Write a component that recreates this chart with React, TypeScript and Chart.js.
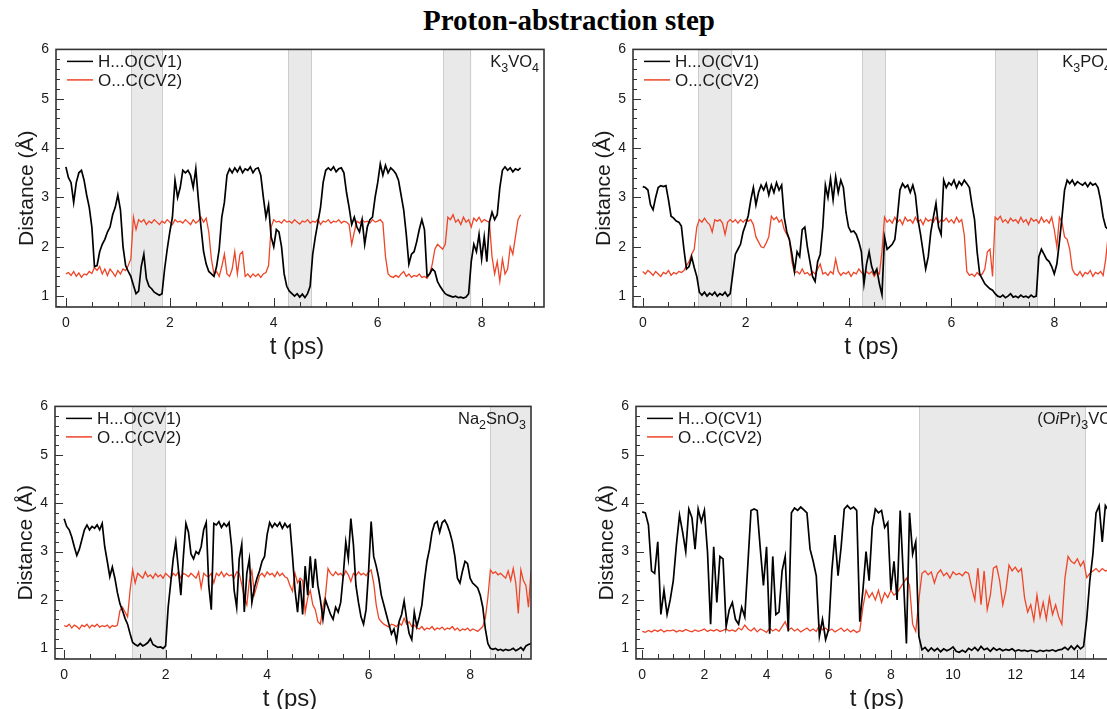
import React, { useEffect, useRef } from 'react';
import { Chart, registerables } from 'chart.js';
Chart.register(...registerables);

// ---------- data ----------
const DT_SHORT = 0.05; // ps between samples (panels a-c)
const DT_LONG = 0.1; // ps between samples (panel d)

const Y_TICKS = [1, 2, 3, 4, 5, 6];
const X_TICKS_SHORT = [0, 2, 4, 6, 8];
const X_TICKS_LONG = [0, 2, 4, 6, 8, 10, 12, 14];

const SERIES_NAMES = ['H...O(CV1)', 'O...C(CV2)'];

// K3VO4
const K3VO4_CV1 = [
  3.62, 3.40, 3.30, 2.90, 3.30, 3.50, 3.55, 3.35, 3.05, 2.80,
  2.40, 1.60, 1.62, 1.90, 2.05, 2.15, 2.30, 2.40, 2.65, 2.80,
  3.05, 2.75, 2.00, 1.62, 1.50, 1.40, 1.22, 1.05, 1.10, 1.60,
  1.85, 1.35, 1.20, 1.15, 1.08, 1.05, 1.02, 1.05, 1.55, 1.95,
  2.30, 2.60, 3.35, 3.00, 3.20, 3.55, 3.50, 3.55, 3.45, 3.20,
  3.58, 2.95, 2.40, 1.90, 1.65, 1.50, 1.45, 1.40, 1.60, 1.95,
  2.60, 2.90, 3.45, 3.58, 3.50, 3.60, 3.52, 3.62, 3.50, 3.58,
  3.55, 3.62, 3.50, 3.58, 3.60, 3.45, 3.00, 2.60, 2.85, 2.20,
  2.00, 2.35, 2.30, 2.00, 1.45, 1.20, 1.10, 1.05, 1.00, 1.05,
  0.98, 1.04, 0.97, 1.05, 1.20, 1.85, 2.20, 2.50, 2.80, 3.30,
  3.55, 3.60, 3.55, 3.62, 3.52, 3.58, 3.60, 3.50, 3.10, 2.80,
  2.45, 2.60, 2.40, 2.30, 2.55, 2.05, 2.40, 2.55, 2.60, 3.00,
  3.30, 3.68, 3.45, 3.65, 3.50, 3.60, 3.55, 3.48, 3.35, 3.05,
  2.75, 2.25, 1.65, 1.85, 1.90, 2.10, 2.35, 2.55, 2.35, 1.40,
  1.45, 1.55, 1.50, 1.30, 1.20, 1.12, 1.05, 1.02, 1.00, 0.98,
  1.00, 0.97, 0.98, 0.96, 0.98, 1.05, 1.70, 2.05, 1.90, 2.25,
  1.75, 2.20, 1.70, 2.50, 2.70, 2.55, 2.65, 3.20, 3.55, 3.62,
  3.55, 3.60, 3.52, 3.58, 3.55, 3.60,
];
const K3VO4_CV2 = [
  1.45, 1.48, 1.42, 1.50, 1.40, 1.47, 1.38, 1.45, 1.43, 1.50,
  1.46, 1.58, 1.52, 1.60, 1.45, 1.55, 1.42, 1.55, 1.48, 1.40,
  1.52, 1.45, 1.55, 1.52, 1.62, 1.75, 2.60, 2.35, 2.55, 2.50,
  2.55, 2.45, 2.52, 2.48, 2.55, 2.50, 2.45, 2.52, 2.48, 2.55,
  2.50, 2.45, 2.55, 2.50, 2.52, 2.48, 2.55, 2.50, 2.45, 2.55,
  2.48, 2.52, 2.60, 2.50, 2.58, 2.30, 1.75, 1.45, 1.50, 1.40,
  1.60, 1.85, 1.45, 1.40, 1.55, 1.90, 1.45, 1.85, 1.90, 1.40,
  1.45, 1.38, 1.45, 1.40, 1.45, 1.38, 1.45, 1.48, 1.62, 2.40,
  2.55, 2.50, 2.52, 2.48, 2.55, 2.50, 2.52, 2.48, 2.55, 2.50,
  2.46, 2.52, 2.50, 2.55, 2.48, 2.52, 2.50, 2.56, 2.45, 2.52,
  2.50, 2.55, 2.48, 2.52, 2.50, 2.55, 2.48, 2.52, 2.50, 2.45,
  2.05, 2.30, 2.52, 2.48, 2.55, 2.50, 2.52, 2.48, 2.55, 2.50,
  2.52, 2.55, 2.48, 1.80, 1.45, 1.40, 1.38, 1.42, 1.38, 1.45,
  1.50, 1.40, 1.45, 1.38, 1.42, 1.40, 1.45, 1.38, 1.40, 1.36,
  1.45, 1.65, 1.95, 2.05, 2.00, 1.95, 2.05, 2.60, 2.55, 2.65,
  2.50, 2.55, 2.45, 2.60, 2.50, 2.55, 2.40, 2.58, 2.52, 2.60,
  2.50, 2.55, 2.52, 2.50, 1.80, 1.45, 1.70, 1.30, 1.75, 1.45,
  1.55, 2.00, 1.85, 2.20, 2.55, 2.65,
];
const K3VO4_SHADES = [[1.26, 1.87], [4.28, 4.73], [7.26, 7.8]];

// K3PO4
const K3PO4_CV1 = [
  3.22, 3.20, 3.15, 2.85, 2.75, 3.00, 3.20, 3.24, 3.22, 3.24,
  2.95, 2.62, 2.58, 2.52, 2.50, 2.42, 1.95, 1.55, 1.60, 1.80,
  1.58, 1.40, 1.08, 1.02, 1.08, 1.00, 1.06, 1.02, 1.08, 1.00,
  1.05, 1.02, 1.08, 1.00, 1.05, 1.45, 1.85, 1.95, 2.05, 2.30,
  2.45, 2.63, 2.95, 3.20, 2.85, 3.10, 3.25, 3.15, 3.28, 3.05,
  3.25, 3.10, 3.30, 3.15, 3.25, 2.60, 2.30, 2.15, 1.85, 1.50,
  1.90, 1.80, 2.35, 2.40, 2.00, 1.70, 1.40, 1.30, 1.70, 1.85,
  2.40, 3.25, 3.00, 3.38, 2.95, 3.42, 3.10, 3.35, 3.20, 2.70,
  2.40, 2.30, 2.32, 2.25, 2.10, 1.90, 1.25, 1.65, 1.90, 1.60,
  1.45, 1.55, 1.25, 1.03, 2.20, 1.95, 2.00, 2.05, 2.15, 2.60,
  3.15, 3.28, 3.20, 3.25, 3.10, 3.25, 3.05, 2.55, 2.25, 1.90,
  1.55, 1.80, 2.30, 2.60, 2.88, 2.40, 2.25, 3.35, 3.20, 3.30,
  3.25, 3.35, 3.20, 3.32, 3.25, 3.35, 3.28, 3.20, 2.85, 2.55,
  1.90, 1.45, 1.35, 1.25, 1.20, 1.15, 1.12, 1.05, 1.00, 0.98,
  1.02, 0.97, 1.00, 1.05, 0.98, 1.00, 0.97, 1.02, 0.98, 1.00,
  0.97, 1.02, 0.98, 1.00, 1.80, 1.95, 1.85, 1.75, 1.70, 1.60,
  1.45, 1.65, 2.10, 2.60, 3.15, 3.35, 3.28, 3.35, 3.25, 3.32,
  3.28, 3.25, 3.30, 3.22, 3.30, 3.25, 3.28, 3.20, 2.95, 2.60,
  2.40, 2.35, 2.45, 2.40, 2.35,
];
const K3PO4_CV2 = [
  1.50, 1.45, 1.52, 1.48, 1.42, 1.50, 1.45, 1.40, 1.48, 1.45,
  1.52, 1.42, 1.48, 1.45, 1.50, 1.48, 1.52, 1.62, 1.70, 1.85,
  1.95, 2.40, 2.55, 2.50, 2.58, 2.50, 2.45, 2.30, 2.55, 2.52,
  2.55, 2.48, 2.25, 2.50, 2.55, 2.50, 2.55, 2.48, 2.55, 2.50,
  2.55, 2.52, 2.55, 2.45, 2.20, 2.10, 2.00, 1.98, 2.08, 2.20,
  2.62, 2.55, 2.60, 2.50, 2.55, 2.35, 2.25, 2.15, 1.70, 1.47,
  1.50, 1.45, 1.55, 1.45, 1.48, 1.42, 1.50, 1.45, 1.55, 1.65,
  1.45, 1.48, 1.42, 1.50, 1.45, 1.75, 1.50, 1.42, 1.48, 1.45,
  1.50, 1.40, 1.48, 1.45, 1.55, 1.48, 1.42, 1.50, 1.45, 1.50,
  1.40, 1.48, 1.45, 1.90, 2.60, 2.50, 2.55, 2.48, 2.60, 2.50,
  2.55, 2.45, 2.60, 2.52, 2.55, 2.48, 2.60, 2.50, 2.55, 2.45,
  2.58, 2.52, 2.55, 2.50, 2.60, 2.48, 2.55, 2.52, 2.58, 2.50,
  2.55, 2.48, 2.60, 2.50, 2.55, 2.25, 1.50, 1.42, 1.45, 1.40,
  1.48, 1.42, 1.45, 1.55, 1.90, 1.95, 1.40, 2.60, 2.55, 2.62,
  2.50, 2.55, 2.48, 2.58, 2.52, 2.55, 2.48, 2.60, 2.50, 2.55,
  2.45, 2.58, 2.52, 2.55, 2.48, 2.60, 2.50, 2.55, 2.48, 2.60,
  2.35, 2.00, 2.60, 2.50, 2.20, 2.15, 1.95, 1.55, 1.45, 1.42,
  1.50, 1.40, 1.48, 1.45, 1.52, 1.40, 1.48, 1.45, 1.50, 1.42,
  1.75, 2.25, 2.20, 2.30, 2.25,
];
const K3PO4_SHADES = [[1.08, 1.74], [4.27, 4.72], [6.85, 7.68]];

// Na2SnO3
const NA2SNO3_CV1 = [
  3.68, 3.52, 3.45, 3.30, 3.10, 2.92, 3.05, 3.25, 3.45, 3.55,
  3.45, 3.52, 3.48, 3.55, 3.45, 3.58, 3.10, 2.80, 2.48, 2.68,
  2.45, 2.15, 1.92, 1.78, 1.62, 1.50, 1.30, 1.12, 1.08, 1.05,
  1.10, 1.05, 1.08, 1.12, 1.20, 1.08, 1.05, 1.02, 1.03, 1.00,
  1.05, 1.85, 2.35, 2.85, 3.20, 2.65, 2.10, 2.90, 3.58, 3.40,
  2.95, 2.85, 3.00, 2.95, 3.10, 3.45, 3.60, 2.30, 1.80, 3.58,
  3.55, 3.62, 3.50, 3.58, 3.52, 3.60, 3.10, 2.20, 1.85, 2.85,
  3.15, 1.75, 2.55, 2.85, 1.95, 2.25, 2.45, 2.60, 2.80, 2.90,
  3.35, 3.60, 3.50, 3.58, 3.52, 3.60, 3.48, 3.58, 3.50, 3.55,
  2.90, 2.20, 1.75, 2.40, 1.70, 2.70, 2.10, 2.90, 2.25, 2.85,
  2.30, 2.00, 1.60, 2.00, 1.85, 1.70, 1.60, 1.85, 1.75, 1.95,
  2.50, 3.20, 2.85, 3.68, 3.15, 2.30, 1.95, 1.65, 1.50, 1.80,
  2.60, 3.62, 2.90, 2.70, 2.45, 2.10, 1.90, 1.70, 1.50, 1.30,
  1.40, 1.15, 1.55, 1.70, 1.98, 1.60, 1.30, 1.18, 1.75, 1.45,
  1.65, 1.90, 2.40, 2.80, 3.05, 3.40, 3.58, 3.62, 3.40, 3.60,
  3.65, 3.55, 3.40, 3.20, 2.90, 2.45, 2.35, 2.60, 2.80, 2.75,
  2.45, 2.35, 2.30, 2.25, 2.10, 1.85, 1.40, 1.10, 1.00, 0.98,
  1.00, 0.96, 0.98, 0.95, 0.98, 0.96, 0.97, 1.00, 0.95, 0.98,
  1.02, 0.96, 1.05, 1.08, 1.10,
];
const NA2SNO3_CV2 = [
  1.47, 1.45, 1.50, 1.42, 1.48, 1.45, 1.40, 1.48, 1.45, 1.50,
  1.42, 1.48, 1.45, 1.50, 1.44, 1.47, 1.45, 1.48, 1.42, 1.47,
  1.45, 1.48, 1.78, 1.85, 1.75, 1.65, 2.20, 2.62, 2.35, 2.55,
  2.50, 2.45, 2.58, 2.48, 2.52, 2.45, 2.55, 2.48, 2.52, 2.45,
  2.55, 2.50, 2.45, 2.55, 2.50, 2.58, 2.45, 2.55, 2.52, 2.48,
  2.55, 2.50, 2.45, 2.58, 2.25, 2.55, 2.50, 2.48, 2.55, 2.35,
  2.55, 2.50, 2.58, 2.48, 2.55, 2.50, 2.52, 2.45, 2.58, 2.55,
  2.32, 2.05, 1.90, 2.40, 2.60, 2.12, 2.30, 2.50, 2.55, 2.48,
  2.58, 2.52, 2.55, 2.48, 2.58, 2.50, 2.55, 2.48, 2.45, 2.30,
  2.18, 2.55, 2.35, 2.45, 2.40, 1.75, 2.05, 2.20, 1.90, 1.80,
  1.55, 1.50, 1.85, 2.10, 2.65, 2.55, 2.50, 2.58, 2.52, 2.55,
  2.48, 2.60, 2.52, 2.38, 2.55, 2.50, 2.58, 2.52, 2.55, 2.50,
  2.58, 2.62, 2.35, 1.90, 1.62, 1.55, 1.50, 1.47, 1.44, 1.50,
  1.48, 1.45, 1.52, 1.48, 1.62, 1.50, 1.55, 1.45, 1.48, 1.42,
  1.40, 1.45, 1.38, 1.42, 1.40, 1.45, 1.38, 1.42, 1.40, 1.44,
  1.38, 1.42, 1.40, 1.45, 1.38, 1.42, 1.36, 1.40, 1.38, 1.42,
  1.36, 1.40, 1.38, 1.35, 1.40, 1.45, 1.62, 2.05, 2.62, 2.55,
  2.58, 2.52, 2.55, 2.50, 2.45, 2.60, 2.40, 2.65, 2.35, 1.72,
  2.62, 2.40, 2.30, 1.85, 2.60,
];
const NA2SNO3_SHADES = [[1.34, 2.01], [8.39, 9.3]];

// (OiPr)3VO4
const OIPR3VO4_CV1 = [
  3.82, 3.80, 3.55, 2.60, 2.55, 3.20, 1.70, 2.20, 1.70, 2.00,
  2.40, 3.14, 3.75, 3.40, 3.00, 3.88, 3.70, 3.05, 3.88, 3.62,
  3.85, 3.00, 1.50, 3.10, 1.95, 2.90, 2.85, 1.45, 1.80, 1.95,
  1.60, 1.50, 1.85, 1.65, 2.75, 3.85, 3.88, 3.85, 3.05, 2.30,
  3.10, 1.30, 2.90, 1.70, 1.75, 2.60, 2.90, 1.35, 3.80, 3.90,
  3.85, 3.92, 3.86, 3.80, 3.05, 2.80, 2.50, 1.25, 1.60, 1.18,
  1.40, 2.60, 3.34, 2.50, 3.10, 3.88, 3.95, 3.88, 3.92, 3.85,
  1.55, 2.20, 3.00, 2.40, 3.50, 3.88, 3.80, 3.85, 3.50, 3.60,
  2.20, 2.80, 2.00, 3.85, 2.50, 1.10, 3.80, 2.95, 3.20, 1.25,
  0.97, 1.02, 0.94, 1.01, 0.95, 1.00, 0.93, 0.99, 0.95, 0.98,
  1.03, 0.94, 0.92, 0.96, 0.92, 1.00, 0.96, 1.02, 0.95, 1.04,
  0.97, 1.00, 0.94, 1.01, 0.96, 0.99, 0.95, 0.98, 0.96, 0.99,
  0.94, 0.97, 0.95, 0.96, 0.94, 0.96, 0.95, 0.93, 0.96, 0.94,
  0.96, 0.95, 0.97, 0.94, 0.97, 0.98, 1.02, 0.97, 1.05, 0.98,
  1.06, 0.99, 1.04, 1.60, 2.40, 2.95, 3.80, 3.95, 3.20, 3.95,
  3.85,
];
const OIPR3VO4_CV2 = [
  1.35, 1.33, 1.37, 1.34, 1.38, 1.35, 1.39, 1.34, 1.37, 1.36,
  1.38, 1.34, 1.37, 1.35, 1.39, 1.36, 1.34, 1.38, 1.35, 1.37,
  1.40, 1.35, 1.38, 1.36, 1.39, 1.35, 1.37, 1.40, 1.36, 1.38,
  1.35, 1.42, 1.38, 1.48, 1.40, 1.36, 1.42, 1.34, 1.40, 1.37,
  1.33, 1.42, 1.36, 1.40, 1.35, 1.45, 1.55, 1.38, 1.42, 1.36,
  1.40, 1.34, 1.38, 1.42, 1.36, 1.40, 1.35, 1.48, 1.38, 1.42,
  1.36, 1.40, 1.34, 1.38, 1.42, 1.35, 1.40, 1.34, 1.38, 1.33,
  1.36, 1.85, 2.20, 2.05, 2.15, 2.00, 2.20, 1.95, 2.15, 2.05,
  2.20, 2.10, 2.15, 2.25, 2.35, 2.45, 2.30, 1.50, 1.35, 2.00,
  2.55, 2.60, 2.52, 2.58, 2.35, 2.55, 2.62, 2.50, 2.56, 2.45,
  2.58, 2.52, 2.55, 2.50, 2.58, 2.55, 2.25, 2.00, 2.66, 1.90,
  2.60, 1.80, 2.10, 2.66, 2.70, 2.40, 1.90, 2.20, 2.72, 2.60,
  2.68, 2.58, 2.65, 2.05, 1.75, 1.90, 1.58, 2.10, 1.65, 1.95,
  1.60, 2.05, 1.70, 1.90, 1.65, 1.50, 2.45, 2.90, 2.80, 2.75,
  2.85, 2.70, 2.80, 2.46, 2.55, 2.60, 2.65, 2.58, 2.65, 2.60,
  2.62,
];
const OIPR3VO4_SHADES = [[8.92, 14.28]];

// compound labels: [text, kind] kind: n=normal, s=subscript, i=italic
const K3VO4_LABEL = [['K', 'n'], ['3', 's'], ['VO', 'n'], ['4', 's']];
const K3PO4_LABEL = [['K', 'n'], ['3', 's'], ['PO', 'n'], ['4', 's']];
const NA2SNO3_LABEL = [['Na', 'n'], ['2', 's'], ['SnO', 'n'], ['3', 's']];
const OIPR3VO4_LABEL = [['(O', 'n'], ['i', 'i'], ['Pr)', 'n'], ['3', 's'], ['VO', 'n'], ['4', 's']];

// ---------- style ----------
const SANS = '"Liberation Sans", Arial, Helvetica, sans-serif';
const RED = '#ee4528';
const INK = '#1a1a1a';
const FRAME = '#333333';
const SHADE = '#e9e9e9';
const SHADE_EDGE = '#cdcdcd';
const Y_MINOR = 0.2;
const X_MINOR = 0.5;
const X_MAJOR = 2;

const PAD_L = 60; // y-axis box width
const PAD_T = 12;
const PAD_R = 12;
const PAD_B = 62; // x-axis box height

const PANELS = [
  { L: 56, T: 46, R: 544, B: 307, xMin: -0.19, xMax: 9.2, xTicks: X_TICKS_SHORT, dt: DT_SHORT, cv1: K3VO4_CV1, cv2: K3VO4_CV2, shades: K3VO4_SHADES, label: K3VO4_LABEL },
  { L: 633, T: 46, R: 1116, B: 307, xMin: -0.19, xMax: 9.2, xTicks: X_TICKS_SHORT, dt: DT_SHORT, cv1: K3PO4_CV1, cv2: K3PO4_CV2, shades: K3PO4_SHADES, label: K3PO4_LABEL },
  { L: 55, T: 403, R: 531, B: 659, xMin: -0.18, xMax: 9.2, xTicks: X_TICKS_SHORT, dt: DT_SHORT, cv1: NA2SNO3_CV1, cv2: NA2SNO3_CV2, shades: NA2SNO3_SHADES, label: NA2SNO3_LABEL },
  { L: 636, T: 403, R: 1124, B: 659, xMin: -0.2, xMax: 15.5, xTicks: X_TICKS_LONG, dt: DT_LONG, cv1: OIPR3VO4_CV1, cv2: OIPR3VO4_CV2, shades: OIPR3VO4_SHADES, label: OIPR3VO4_LABEL },
];

const toPoints = (vals: number[], dt: number) => vals.map((v, i) => ({ x: Math.round(i * dt * 100) / 100, y: v }));

const decor = {
  id: 'decor',
  beforeDatasetsDraw(chart: any, _a: any, o: any) {
    const { ctx, chartArea: ca } = chart;
    const xs = chart.scales.x;
    ctx.save();
    ctx.beginPath();
    ctx.rect(ca.left, ca.top, ca.right - ca.left, ca.bottom - ca.top);
    ctx.clip();
    for (const [a, b] of o.shades) {
      const xa = xs.getPixelForValue(a);
      const xb = xs.getPixelForValue(b);
      ctx.fillStyle = SHADE;
      ctx.fillRect(xa, ca.top, xb - xa, ca.bottom - ca.top);
      ctx.strokeStyle = SHADE_EDGE;
      ctx.lineWidth = 1;
      ctx.beginPath();
      ctx.moveTo(Math.round(xa) + 0.5, ca.top);
      ctx.lineTo(Math.round(xa) + 0.5, ca.bottom);
      ctx.moveTo(Math.round(xb) - 0.5, ca.top);
      ctx.lineTo(Math.round(xb) - 0.5, ca.bottom);
      ctx.stroke();
    }
    ctx.restore();
  },
  afterDraw(chart: any, _a: any, o: any) {
    const { ctx, chartArea: ca } = chart;
    const xs = chart.scales.x;
    const ys = chart.scales.y;
    ctx.save();
    // inward ticks
    ctx.strokeStyle = FRAME;
    ctx.lineWidth = 1;
    for (let k = Math.ceil(ys.min / Y_MINOR - 1e-6); k * Y_MINOR <= ys.max + 1e-6; k++) {
      const v = Math.round(k * Y_MINOR * 1000) / 1000;
      const major = Math.abs(v - Math.round(v)) < 1e-6;
      const py = Math.round(ys.getPixelForValue(v)) + 0.5;
      ctx.beginPath();
      ctx.moveTo(ca.left, py);
      ctx.lineTo(ca.left + (major ? 8 : 4), py);
      ctx.stroke();
    }
    for (let k = Math.ceil(xs.min / X_MINOR - 1e-6); k * X_MINOR <= xs.max + 1e-6; k++) {
      const v = k * X_MINOR;
      const major = Math.abs(v / X_MAJOR - Math.round(v / X_MAJOR)) < 1e-6;
      const px = Math.round(xs.getPixelForValue(v)) + 0.5;
      ctx.beginPath();
      ctx.moveTo(px, ca.bottom);
      ctx.lineTo(px, ca.bottom - (major ? 9 : 5));
      ctx.stroke();
    }
    // frame
    ctx.lineWidth = 1.6;
    ctx.strokeStyle = FRAME;
    ctx.strokeRect(ca.left, ca.top, ca.right - ca.left, ca.bottom - ca.top);

    // legend
    const cols = ['#000000', RED];
    ctx.font = `17px ${SANS}`;
    ctx.textBaseline = 'middle';
    ctx.textAlign = 'left';
    SERIES_NAMES.forEach((name, i) => {
      const y = ca.top + 12 + i * 18.5;
      ctx.strokeStyle = cols[i];
      ctx.lineWidth = 1.5;
      ctx.beginPath();
      ctx.moveTo(ca.left + 11, y);
      ctx.lineTo(ca.left + 37, y);
      ctx.stroke();
      ctx.fillStyle = INK;
      ctx.fillText(name, ca.left + 42, y + 1);
    });

    // compound label (right-aligned)
    const fontFor = (k: string) => (k === 's' ? `12.5px ${SANS}` : k === 'i' ? `italic 16.5px ${SANS}` : `16.5px ${SANS}`);
    let w = 0;
    for (const [t, k] of o.label) { ctx.font = fontFor(k); w += ctx.measureText(t).width; }
    let x = ca.right - 5 - w;
    const base = ca.top + 18;
    ctx.textBaseline = 'alphabetic';
    ctx.fillStyle = INK;
    for (const [t, k] of o.label) {
      ctx.font = fontFor(k);
      ctx.fillText(t, x, k === 's' ? base + 5 : base);
      x += ctx.measureText(t).width;
    }

    // axis titles
    ctx.textAlign = 'center';
    ctx.textBaseline = 'middle';
    ctx.font = `24px ${SANS}`;
    ctx.fillText('t (ps)', (ca.left + ca.right) / 2 - 3, ca.bottom + 40);
    ctx.font = `21px ${SANS}`;
    ctx.save();
    ctx.translate(ca.left - 29, (ca.top + ca.bottom) / 2 + 10);
    ctx.rotate(-Math.PI / 2);
    ctx.fillText('Distance (Å)', 0, 0);
    ctx.restore();
    ctx.restore();
  },
};

function Panel({ p }: { p: any }) {
  const ref = useRef<HTMLCanvasElement | null>(null);
  const cw = p.R - p.L + PAD_L + PAD_R;
  const ch = p.B - p.T + PAD_T + PAD_B;
  useEffect(() => {
    if (!ref.current) return;
    const chart = new Chart(ref.current, {
      type: 'line',
      data: {
        datasets: [
          { label: SERIES_NAMES[0], data: toPoints(p.cv1, p.dt), borderColor: '#000000', borderWidth: 1.7, pointRadius: 0, tension: 0 },
          { label: SERIES_NAMES[1], data: toPoints(p.cv2, p.dt), borderColor: RED, borderWidth: 1.3, pointRadius: 0, tension: 0 },
        ],
      },
      options: {
        animation: false,
        responsive: false,
        events: [],
        layout: { padding: { left: 0, top: PAD_T, right: PAD_R, bottom: 0 } },
        plugins: { legend: { display: false }, tooltip: { enabled: false }, decor: { shades: p.shades, label: p.label } } as any,
        scales: {
          x: {
            type: 'linear',
            min: p.xMin,
            max: p.xMax,
            grid: { display: false, drawTicks: false },
            border: { display: false },
            ticks: { font: { family: SANS, size: 14 }, color: INK, padding: 8, maxRotation: 0, autoSkip: false },
            afterBuildTicks: (s: any) => { s.ticks = p.xTicks.map((v: number) => ({ value: v })); },
            afterFit: (s: any) => { s.height = PAD_B; },
          },
          y: {
            type: 'linear',
            min: 0.78,
            max: 6,
            grid: { display: false, drawTicks: false },
            border: { display: false },
            ticks: { font: { family: SANS, size: 14 }, color: INK, padding: 7 },
            afterBuildTicks: (s: any) => { s.ticks = Y_TICKS.map((v) => ({ value: v })); },
            afterFit: (s: any) => { s.width = PAD_L; },
          },
        },
      },
      plugins: [decor as any],
    });
    return () => chart.destroy();
  }, []);
  return (
    <canvas
      ref={ref}
      width={cw}
      height={ch}
      style={{ position: 'absolute', left: p.L - PAD_L, top: p.T - PAD_T, width: cw, height: ch }}
    />
  );
}

export default function App() {
  return (
    <div style={{ position: 'absolute', left: 0, top: 0, width: 1107, height: 709, overflow: 'hidden', background: '#ffffff' }}>
      <div
        style={{
          position: 'absolute', left: 0, top: 4, width: 1138, textAlign: 'center',
          font: 'bold 29px "Liberation Serif", "Times New Roman", serif', color: '#000',
        }}
      >
        Proton-abstraction step
      </div>
      {PANELS.map((p, i) => (
        <Panel key={i} p={p} />
      ))}
    </div>
  );
}
